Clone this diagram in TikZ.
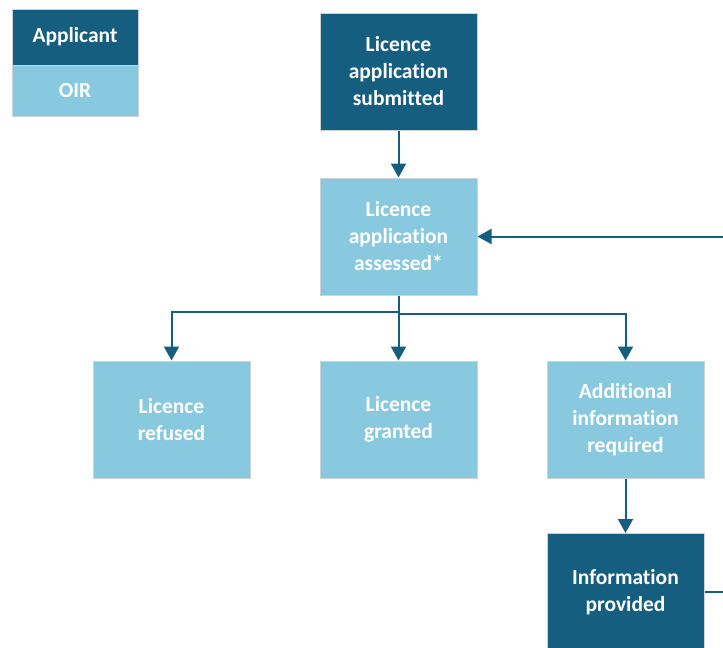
\documentclass[tikz,border=0pt]{standalone}
\usepackage{fontspec}
\setmainfont{Carlito}[Ligatures=NoCommon]
\usetikzlibrary{arrows.meta,positioning}
\definecolor{darkb}{RGB}{22,94,128}
\definecolor{lightb}{RGB}{136,201,223}
\definecolor{edgegray}{RGB}{205,210,214}
\tikzset{
  box/.style={draw=edgegray,line width=1pt,minimum width=157pt,minimum height=117pt,
    align=center,text=white,font=\fontsize{21.5}{27}\selectfont\bfseries,inner sep=2pt},
  appbox/.style={box,fill=darkb},
  oirbox/.style={box,fill=lightb},
  flow/.style={draw=darkb,line width=2pt,-{Triangle[width=15pt,length=14pt]}},
  legbox/.style={draw=edgegray,line width=1pt,minimum width=126pt,
    text=white,font=\fontsize{21.5}{24}\selectfont\bfseries,inner sep=0pt}
}
\begin{document}
\begin{tikzpicture}[x=1pt,y=-1pt]
\useasboundingbox (0,0) rectangle (723,648);
\clip (0,0) rectangle (723,648);
\fill[white] (0,0) rectangle (723,648);
% legend
\node[legbox,fill=darkb,minimum height=56pt] (lapp) at (75,37) {Applicant};
\node[legbox,fill=lightb,minimum height=51pt] (loir) at (75,90.5) {OIR};
% boxes
\node[appbox] (sub) at (398.5,71.5) {Licence\\application\\submitted};
\node[oirbox] (ass) at (398.5,236.5) {Licence\\application\\assessed*};
\node[oirbox] (ref) at (171.5,419.5) {Licence\\refused};
\node[oirbox] (gra) at (398.5,419.5) {Licence\\granted};
\node[oirbox] (add) at (625.5,419.5) {Additional\\information\\required};
\node[appbox] (inf) at (625.5,592) {Information\\provided};
\coordinate (j1) at (398.5,312);
\coordinate (j2) at (398.5,314);
\coordinate (fb) at (745,592);
% connectors
\draw[flow] (sub) -- (ass);
\draw[flow] (ass) -- (gra);
\draw[flow] (j1) -| (ref);
\draw[flow] (j2) -| (add);
\draw[flow] (add) -- (inf);
\draw[flow] (inf.east) -- (fb) |- (ass.east);
\end{tikzpicture}
\end{document}
